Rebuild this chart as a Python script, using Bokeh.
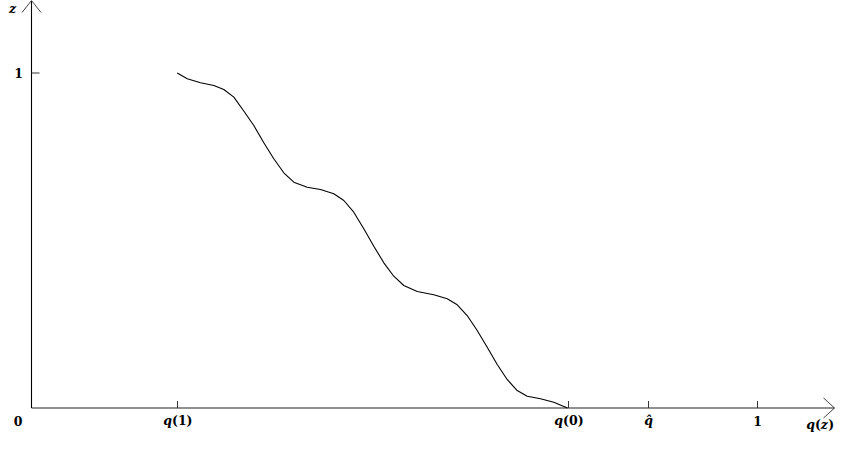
from bokeh.plotting import figure
from bokeh.models import Range1d
from bokeh.core.properties import value
from bokeh.embed import file_html
from bokeh.resources import INLINE

# ---- data ----
q_vals = [0.2007, 0.2145, 0.2328, 0.2511, 0.2649, 0.2787, 0.2924, 0.3062, 0.3200,
          0.3337, 0.3475, 0.3613, 0.3797, 0.3981, 0.4164, 0.4302, 0.4439, 0.4577,
          0.4715, 0.4853, 0.4990, 0.5128, 0.5313, 0.5541, 0.5726, 0.5864, 0.6001,
          0.6139, 0.6277, 0.6415, 0.6552, 0.6690, 0.6828, 0.7011, 0.7194, 0.7383]
z_vals = [1.0000, 0.9827, 0.9707, 0.9627, 0.9507, 0.9278, 0.8866, 0.8433, 0.7916,
          0.7439, 0.7021, 0.6740, 0.6591, 0.6522, 0.6394, 0.6194, 0.5845, 0.5349,
          0.4830, 0.4334, 0.3934, 0.3657, 0.3478, 0.3379, 0.3260, 0.3081, 0.2761,
          0.2313, 0.1815, 0.1299, 0.0851, 0.0522, 0.0352, 0.0275, 0.0173, 0.0000]

x_tick_pos = [0.2011, 0.7397, 0.8499, 1.0]      # q(1), q(0), q-hat, 1
y_tick_pos = [1.0]
X_TIP = 1.1061
Y_TIP = 1.2164

# ---- geometry ----
W, H = 837, 434
PX_X = 1 / 726.0   # data units per pixel (x)
PX_Y = 1 / 335.0   # data units per pixel (y)
x0 = -31 * PX_X
x1 = x0 + W * PX_X
y1 = 407.5 * PX_Y
y0 = y1 - H * PX_Y

p = figure(width=W, height=H, output_backend="svg", toolbar_location=None,
           x_range=Range1d(x0, x1), y_range=Range1d(y0, y1),
           min_border=0, min_border_left=0, min_border_right=0,
           min_border_top=0, min_border_bottom=0)
p.axis.visible = False
p.grid.visible = False
p.outline_line_color = None
p.background_fill_color = "white"
p.border_fill_color = "white"

# axes
p.segment(x0=[0], y0=[0], x1=[X_TIP], y1=[0], line_color="#6b6b6b", line_width=1.6)
p.segment(x0=[0], y0=[0], x1=[0], y1=[Y_TIP], line_color="black", line_width=1.1)
# arrow heads
p.segment(x0=[X_TIP, X_TIP], y0=[0, 0],
          x1=[X_TIP - 11 * PX_X, X_TIP - 11 * PX_X], y1=[10 * PX_Y, -10 * PX_Y],
          line_color="#444444", line_width=1)
p.segment(x0=[0, 0], y0=[Y_TIP, Y_TIP],
          x1=[-9.5 * PX_X, 9.5 * PX_X], y1=[Y_TIP - 12 * PX_Y, Y_TIP - 12 * PX_Y],
          line_color="#444444", line_width=1)
# ticks
p.segment(x0=x_tick_pos, y0=[0] * len(x_tick_pos), x1=x_tick_pos,
          y1=[7 * PX_Y] * len(x_tick_pos), line_color="#333333", line_width=1)
p.segment(x0=[0] * len(y_tick_pos), y0=y_tick_pos, x1=[8 * PX_X] * len(y_tick_pos),
          y1=y_tick_pos, line_color="#333333", line_width=1)

# curve
p.line(q_vals, z_vals, line_color="black", line_width=1.1)

FONT = value("DejaVu Serif")
FS = "12.5px"
LAB_Y = -12.5 * PX_Y

def txt(x, y, s, style, align="center", xoff=0):
    p.text(x=[x], y=[y], text=[s], text_font=FONT, text_font_size=FS,
           text_font_style=style, text_align=align, text_baseline="middle",
           text_color="black", x_offset=xoff)

# x tick labels
txt(-13.5 * PX_X, LAB_Y, "0", "bold")
for xp, inner in [(x_tick_pos[0], "(1)"), (x_tick_pos[1], "(0)")]:
    txt(xp, LAB_Y, "q", "bold italic", align="right", xoff=-5.5)
    txt(xp, LAB_Y, inner, "bold", align="left", xoff=-5.5)
txt(x_tick_pos[2], -12 * PX_Y, "q\u0302", "bold italic")
txt(x_tick_pos[3], LAB_Y, "1", "bold")
# axis titles
qz_x = 789 * PX_X
qz_y = -16 * PX_Y
txt(qz_x, qz_y, "q", "bold italic", align="right", xoff=-5.5)
txt(qz_x, qz_y, "(", "bold", align="left", xoff=-5.5)
txt(qz_x, qz_y, "z", "bold italic", align="left", xoff=0.3)
txt(qz_x, qz_y, ")", "bold", align="left", xoff=7.8)
txt(-13 * PX_X, y_tick_pos[0], "1", "bold")
txt(-19 * PX_X, 400 * PX_Y, "z", "bold italic")

open("out.html", "w").write(file_html(p, INLINE))
